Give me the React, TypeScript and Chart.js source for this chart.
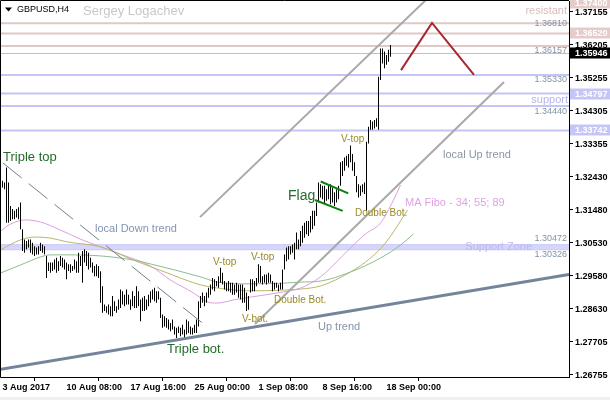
import React, { useEffect, useRef } from "react";
import { Chart, registerables } from "chart.js";

Chart.register(...registerables);

// ---------- data ----------
const HIGHS = [
  1.3230, 1.3225, 1.3268, 1.3225, 1.3158, 1.3149, 1.3144, 1.3149, 1.3154, 1.3168,
  1.3091, 1.3062, 1.3058, 1.3062, 1.3062, 1.3053, 1.3043, 1.3039, 1.3043, 1.3053,
  1.3048, 1.3043, 1.3015, 1.2996, 1.2996, 1.2996, 1.3005, 1.3010, 1.3000, 1.3015,
  1.3010, 1.3005, 1.2996, 1.2991, 1.2991, 1.2986, 1.3005, 1.3000, 1.3024, 1.3015,
  1.3029, 1.3034, 1.3029, 1.3024, 1.3010, 1.2996, 1.2986, 1.2991, 1.2986,
  1.2971, 1.2928, 1.2876, 1.2871, 1.2876, 1.2871, 1.2900, 1.2885, 1.2871, 1.2890,
  1.2919, 1.2914, 1.2904, 1.2919, 1.2904, 1.2890, 1.2914, 1.2900, 1.2928, 1.2914,
  1.2890, 1.2895, 1.2900, 1.2890, 1.2904, 1.2914, 1.2919, 1.2924, 1.2914, 1.2914,
  1.2895, 1.2847, 1.2842, 1.2837, 1.2833, 1.2823, 1.2833, 1.2813, 1.2809, 1.2813,
  1.2809, 1.2818, 1.2804, 1.2833, 1.2828, 1.2813, 1.2809, 1.2818, 1.2833,
  1.2885, 1.2900, 1.2910, 1.2900, 1.2910, 1.2924, 1.2933, 1.2952, 1.2948, 1.2943,
  1.2957, 1.2981, 1.2967, 1.2943, 1.2938, 1.2943, 1.2938, 1.2938, 1.2933, 1.2938,
  1.2933, 1.2933, 1.2933, 1.2924, 1.2910, 1.2900, 1.2948, 1.2948, 1.2943, 1.2952,
  1.2991, 1.2986, 1.2957, 1.2962, 1.2962, 1.2967, 1.2962, 1.2943, 1.2938, 1.2938,
  1.2933, 1.2938, 1.2976, 1.3019, 1.3039, 1.3043, 1.3043, 1.3048, 1.3053, 1.3082,
  1.3062, 1.3086, 1.3101, 1.3110, 1.3115, 1.3115, 1.3129, 1.3144, 1.3144, 1.3168,
  1.3225, 1.3220, 1.3216, 1.3216, 1.3206, 1.3220, 1.3220, 1.3211, 1.3197, 1.3206,
  1.3216, 1.3283, 1.3287, 1.3297, 1.3302, 1.3307, 1.3331, 1.3307, 1.3283, 1.3244,
  1.3220, 1.3216, 1.3220, 1.3225, 1.3342, 1.3385, 1.3404, 1.3400, 1.3404, 1.3409,
  1.3528, 1.3609, 1.3609, 1.3600, 1.3590, 1.3605, 1.3619,
];

const LOWS = [
  1.3211, 1.3206, 1.3110, 1.3110, 1.3115, 1.3120, 1.3120, 1.3125, 1.3120, 1.3091,
  1.3029, 1.3024, 1.3034, 1.3039, 1.3024, 1.3019, 1.3015, 1.3019, 1.3019, 1.3029,
  1.3024, 1.3019, 1.2952, 1.2972, 1.2967, 1.2972, 1.2976, 1.2967, 1.2972, 1.2986,
  1.2982, 1.2976, 1.2948, 1.2972, 1.2967, 1.2972, 1.2976, 1.2967, 1.2967, 1.2986,
  1.2938, 1.2996, 1.2986, 1.2976, 1.2982, 1.2967, 1.2957, 1.2957, 1.2952,
  1.2881, 1.2852, 1.2857, 1.2852, 1.2847, 1.2842, 1.2842, 1.2857, 1.2852, 1.2861,
  1.2866, 1.2876, 1.2871, 1.2876, 1.2876, 1.2861, 1.2871, 1.2866, 1.2866, 1.2871,
  1.2828, 1.2857, 1.2857, 1.2861, 1.2871, 1.2881, 1.2890, 1.2885, 1.2881, 1.2890,
  1.2837, 1.2809, 1.2813, 1.2809, 1.2804, 1.2799, 1.2804, 1.2790, 1.2780, 1.2794,
  1.2785, 1.2790, 1.2775, 1.2790, 1.2794, 1.2790, 1.2790, 1.2794, 1.2794,
  1.2813, 1.2866, 1.2881, 1.2871, 1.2881, 1.2895, 1.2904, 1.2919, 1.2914, 1.2928,
  1.2924, 1.2938, 1.2933, 1.2919, 1.2914, 1.2914, 1.2910, 1.2904, 1.2904, 1.2910,
  1.2895, 1.2890, 1.2881, 1.2881, 1.2857, 1.2861, 1.2910, 1.2914, 1.2914, 1.2928,
  1.2938, 1.2938, 1.2933, 1.2938, 1.2933, 1.2938, 1.2938, 1.2914, 1.2919, 1.2924,
  1.2914, 1.2919, 1.2919, 1.2976, 1.3000, 1.3005, 1.3019, 1.3024, 1.3005, 1.3034,
  1.3034, 1.3043, 1.3053, 1.3067, 1.3077, 1.3072, 1.3082, 1.3091, 1.3101, 1.3129,
  1.3168, 1.3182, 1.3177, 1.3163, 1.3173, 1.3177, 1.3163, 1.3168, 1.3158, 1.3168,
  1.3177, 1.3216, 1.3244, 1.3259, 1.3273, 1.3268, 1.3283, 1.3259, 1.3244, 1.3197,
  1.3182, 1.3187, 1.3197, 1.3192, 1.3144, 1.3337, 1.3376, 1.3376, 1.3380, 1.3385,
  1.3376, 1.3519, 1.3566, 1.3552, 1.3562, 1.3571, 1.3585,
];

// moving averages (bar index, price)
const MA34 = [
  [-1, 1.3086], [4, 1.3106], [11.5, 1.3118], [19, 1.3112], [29, 1.3089], [39, 1.3063],
  [49, 1.3041], [59, 1.3020], [74, 1.2986], [84, 1.2946], [95.5, 1.2909], [102.5, 1.2883],
  [107.5, 1.2880], [115.5, 1.2889], [124, 1.2897], [140.5, 1.2912], [149, 1.2923],
  [159, 1.2955], [174, 1.3038], [181.5, 1.3078], [189, 1.3109], [195.5, 1.3175], [199, 1.3218],
];
const MA55 = [
  [-1, 1.3032], [9, 1.3061], [16.5, 1.3069], [24, 1.3066], [32.5, 1.3055], [49, 1.3041],
  [65.5, 1.3003], [82.5, 1.2966], [99, 1.2932], [107.5, 1.2923], [124, 1.2915], [140.5, 1.2917],
  [149, 1.2920], [159, 1.2929], [174, 1.2969], [184, 1.3009], [191.5, 1.3052], [202.5, 1.3146],
];
const MA89 = [
  [-1, 1.2966], [9, 1.2989], [19, 1.3012], [24, 1.3018], [32.5, 1.3018], [49, 1.3015],
  [65.5, 1.3003], [74, 1.2992], [99, 1.2955], [107.5, 1.2940], [124, 1.2935], [140.5, 1.2937],
  [149, 1.2940], [159, 1.2943], [174, 1.2969], [189, 1.3009], [199, 1.3046], [205.5, 1.3078],
];

// trend lines (bar index, price)
const UP_TREND = [[-1.25, 1.2690], [283.25, 1.2962]];
const LOCAL_UP_LOWER = [[126.25, 1.2820], [250.75, 1.3513]];
const LOCAL_UP_UPPER = [[98.75, 1.3126], [215, 1.3766]];
const LOCAL_DOWN = [[0.25, 1.3281], [101.25, 1.2817]];
const FLAG_UPPER = [[159.1, 1.3228], [172.9, 1.3194]];
const FLAG_LOWER = [[156.25, 1.3175], [170.1, 1.3144]];
const ARROW = [[199.25, 1.3547], [214.75, 1.3682], [235.75, 1.3533]];

const RESIST_LEVELS = [1.3681, 1.3652, 1.36157];
const SUPPORT_LEVELS = [1.3533, 1.34797, 1.3444, 1.33742];
const ZONE = [1.30472, 1.30326];
const LAST_PRICE = 1.35946;

const Y_TICKS = [1.37155, 1.36205, 1.35255, 1.34305, 1.33355, 1.3243, 1.3148, 1.3053, 1.2958, 1.2863, 1.27705, 1.26755];
const X_TICKS = [0, 32, 64, 96, 128, 160, 192];
const X_LABELS = ["3 Aug 2017", "10 Aug 08:00", "17 Aug 16:00", "25 Aug 00:00", "1 Sep 08:00", "8 Sep 16:00", "18 Sep 00:00"];

const AXIS_MARKS = [
  { v: 1.374, bg: "#e4cccb" },
  { v: 1.3652, bg: "#e4cccb" },
  { v: 1.35946, bg: "#000000" },
  { v: 1.34797, bg: "#c6c6f6" },
  { v: 1.33742, bg: "#c6c6f6" },
];

const GREEN_T = "#236b2b";
const PAT_T = "#9a8a26";
const PRICE_T = "#8292a4";
const F = "'Liberation Sans', Arial, sans-serif";

const ANNOTATIONS = [
  { t: "Triple top", i: 0.25, p: 1.3298, c: GREEN_T, f: `13px ${F}`, a: "left" },
  { t: "local Down trend", i: 46.25, p: 1.3092, c: "#8494b6", f: `11px ${F}`, a: "left" },
  { t: "V-top", i: 105.25, p: 1.2998, c: PAT_T, f: `10px ${F}`, a: "left" },
  { t: "V-top", i: 124.25, p: 1.3012, c: PAT_T, f: `10px ${F}`, a: "left" },
  { t: "V-top", i: 169.25, p: 1.3350, c: PAT_T, f: `10px ${F}`, a: "left" },
  { t: "Double Bot.", i: 135.75, p: 1.2889, c: PAT_T, f: `10px ${F}`, a: "left" },
  { t: "Double Bot.", i: 176.25, p: 1.3138, c: PAT_T, f: `10px ${F}`, a: "left" },
  { t: "V-bot.", i: 119.75, p: 1.2834, c: PAT_T, f: `10px ${F}`, a: "left" },
  { t: "Triple bot.", i: 82.25, p: 1.2748, c: GREEN_T, f: `13px ${F}`, a: "left" },
  { t: "Flag", i: 142.75, p: 1.3187, c: GREEN_T, f: `14px ${F}`, a: "left" },
  { t: "MA Fibo - 34; 55; 89", i: 201.25, p: 1.3167, c: "#e0a4e0", f: `11px ${F}`, a: "left" },
  { t: "local Up trend", i: 220.25, p: 1.3304, c: "#8a96a6", f: `11px ${F}`, a: "left" },
  { t: "Up trend", i: 157.75, p: 1.2812, c: "#8494a6", f: `11px ${F}`, a: "left" },
  { t: "Support Zone", i: 264.75, p: 1.3040, c: "#b8b8f0", f: `11px ${F}`, a: "right" },
  { t: "support", i: 282.75, p: 1.3461, c: "#b4b4ee", f: `11px ${F}`, a: "right" },
  { t: "resistant", i: 282.25, p: 1.3716, c: "#dcbcbc", f: `11px ${F}`, a: "right" },
  { t: "1.36810", i: 282.25, p: 1.3681, c: PRICE_T, f: `9px ${F}`, a: "right" },
  { t: "1.36157", i: 282.25, p: 1.3604, c: PRICE_T, f: `9px ${F}`, a: "right" },
  { t: "1.35330", i: 282.25, p: 1.3521, c: PRICE_T, f: `9px ${F}`, a: "right" },
  { t: "1.34440", i: 282.25, p: 1.3428, c: PRICE_T, f: `9px ${F}`, a: "right" },
  { t: "1.30472", i: 282.25, p: 1.3064, c: PRICE_T, f: `9px ${F}`, a: "right" },
  { t: "1.30326", i: 282.25, p: 1.3018, c: PRICE_T, f: `9px ${F}`, a: "right" },
];

const X_MIN = -0.75;
const X_MAX = 283.25;
const Y_MIN = 1.26683;
const Y_MAX = 1.374485;

const pts = (arr: number[][]) => arr.map(([x, y]) => ({ x, y }));
const hline = (v: number) => [{ x: X_MIN - 2, y: v }, { x: X_MAX + 2, y: v }];

const overlay = {
  id: "overlay",
  beforeDraw(chart: any) {
    const { ctx, width, height } = chart;
    ctx.save();
    ctx.fillStyle = "#ffffff";
    ctx.fillRect(0, 0, width, height);
    ctx.fillStyle = "#f0f0f0";
    ctx.fillRect(0, 397, width, 3);
    ctx.restore();
  },
  afterDatasetsDraw(chart: any) {
    const { ctx, scales } = chart;
    const xs = scales.x, ys = scales.y;
    ctx.save();
    ctx.textBaseline = "middle";
    for (const a of ANNOTATIONS) {
      ctx.font = a.f;
      ctx.fillStyle = a.c;
      ctx.textAlign = a.a;
      ctx.fillText(a.t, xs.getPixelForValue(a.i), ys.getPixelForValue(a.p));
    }
    // header
    ctx.fillStyle = "#000";
    ctx.beginPath();
    ctx.moveTo(5, 7.5);
    ctx.lineTo(12, 7.5);
    ctx.lineTo(8.5, 11.5);
    ctx.closePath();
    ctx.fill();
    ctx.textAlign = "left";
    ctx.font = `9px ${F}`;
    ctx.fillText("GBPUSD,H4", 17, 9.5);
    ctx.font = `13px ${F}`;
    ctx.fillStyle = "#c8c8c8";
    ctx.fillText("Sergey Logachev", 83, 11);
    ctx.restore();
  },
  afterDraw(chart: any) {
    const { ctx, chartArea, scales } = chart;
    const ys = scales.y;
    ctx.save();
    ctx.strokeStyle = "#000";
    ctx.lineWidth = 1;
    ctx.beginPath();
    ctx.moveTo(chartArea.right, 0.5);
    ctx.lineTo(0.5, 0.5);
    ctx.lineTo(0.5, chartArea.bottom + 0.5);
    ctx.lineTo(chartArea.right, chartArea.bottom + 0.5);
    ctx.stroke();
    ctx.font = `bold 9px ${F}`;
    ctx.textAlign = "left";
    ctx.textBaseline = "middle";
    for (const m of AXIS_MARKS) {
      const y = ys.getPixelForValue(m.v);
      ctx.fillStyle = m.bg;
      ctx.fillRect(chartArea.right + 1, Math.round(y) - 5.5, 41, 11);
      ctx.fillStyle = "#ffffff";
      ctx.fillText(m.v.toFixed(5), chartArea.right + 6, y + 0.5);
    }
    ctx.restore();
  },
};

const noPad = (s: any) => {
  s.paddingTop = 0;
  s.paddingBottom = 0;
  s.paddingLeft = 0;
  s.paddingRight = 0;
};

export default function App() {
  const ref = useRef<HTMLCanvasElement | null>(null);

  useEffect(() => {
    if (!ref.current) return;
    const lineDs = (data: any[], color: string, width: number, order: number, extra: any = {}) => ({
      type: "line",
      data,
      borderColor: color,
      borderWidth: width,
      pointRadius: 0,
      fill: false,
      order,
      ...extra,
    });

    const datasets: any[] = [
      lineDs(hline(ZONE[0]), "#c8c8f8", 1, 20, { fill: "+1", backgroundColor: "#d6d6fa" }),
      lineDs(hline(ZONE[1]), "#c8c8f8", 1, 19),
      ...RESIST_LEVELS.map((v) => lineDs(hline(v), "#e0c8c6", 2, 18)),
      ...SUPPORT_LEVELS.map((v) => lineDs(hline(v), "#c4c4f6", 2, 18)),
      lineDs(hline(LAST_PRICE), "#c0c0c0", 1, 18),
      lineDs(pts(MA89), "#8fbc8f", 1, 10, { cubicInterpolationMode: "monotone" }),
      lineDs(pts(MA55), "#bdb76b", 1, 10, { cubicInterpolationMode: "monotone" }),
      lineDs(pts(MA34), "#dda0dd", 1, 10, { cubicInterpolationMode: "monotone" }),
      {
        type: "bar",
        data: HIGHS.map((h, i) => ({ x: i, y: [LOWS[i], h] })),
        backgroundColor: "#000000",
        borderWidth: 0,
        barThickness: 1,
        inflateAmount: 0,
        order: 5,
      },
      lineDs(pts(LOCAL_DOWN), "#708090", 1, 2, { borderDash: [24, 9] }),
      lineDs(pts(LOCAL_UP_LOWER), "#a9a9a9", 2, 2),
      lineDs(pts(LOCAL_UP_UPPER), "#a9a9a9", 2, 2),
      lineDs(pts(UP_TREND), "#74849a", 3, 1),
      lineDs(pts(FLAG_UPPER), "#0c800c", 2, 1),
      lineDs(pts(FLAG_LOWER), "#0c800c", 2, 1),
      lineDs(pts(ARROW), "#a82830", 2, 1),
    ];

    const chart = new Chart(ref.current, {
      type: "bar",
      data: { datasets },
      options: {
        animation: false,
        responsive: false,
        devicePixelRatio: 1,
        layout: { padding: { left: 1, top: 1, right: 0, bottom: 0 } },
        plugins: { legend: { display: false }, tooltip: { enabled: false } },
        scales: {
          x: {
            type: "linear",
            min: X_MIN,
            max: X_MAX,
            offset: false,
            afterBuildTicks: (s: any) => {
              s.ticks = X_TICKS.map((v) => ({ value: v }));
            },
            afterFit: (s: any) => {
              s.height = 23;
              noPad(s);
            },
            ticks: {
              autoSkip: false,
              maxRotation: 0,
              minRotation: 0,
              align: "start",
              padding: 1,
              color: "#000",
              font: { family: F, size: 9, weight: "bold" },
              callback: (v: any) => {
                const k = X_TICKS.indexOf(Number(v));
                return k >= 0 ? X_LABELS[k] : "";
              },
            },
            grid: { display: true, drawOnChartArea: false, drawTicks: true, tickLength: 4, color: "#000" },
            border: { display: true, color: "#000" },
          },
          y: {
            type: "linear",
            position: "right",
            min: Y_MIN,
            max: Y_MAX,
            afterBuildTicks: (s: any) => {
              s.ticks = Y_TICKS.map((v) => ({ value: v }));
            },
            afterFit: (s: any) => {
              s.width = 41;
              noPad(s);
            },
            ticks: {
              autoSkip: false,
              padding: 2,
              labelOffset: 1,
              color: "#000",
              font: { family: F, size: 9, weight: "bold" },
              callback: (v: any) => Number(v).toFixed(5),
            },
            grid: { display: true, drawOnChartArea: false, drawTicks: true, tickLength: 4, color: "#000" },
            border: { display: true, color: "#000" },
          },
        },
      } as any,
      plugins: [overlay],
    });
    return () => chart.destroy();
  }, []);

  return (
    <div style={{ position: "absolute", left: 0, top: 0, width: 610, height: 400 }}>
      <canvas ref={ref} width={610} height={400} style={{ display: "block" }} />
    </div>
  );
}
